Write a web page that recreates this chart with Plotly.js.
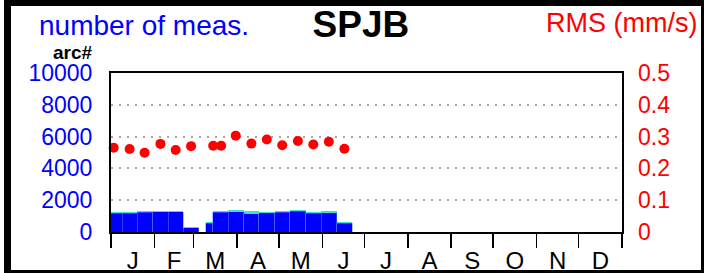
<!DOCTYPE html>
<html>
<head>
<meta charset="utf-8">
<script src="https://cdn.plot.ly/plotly-3.0.1.min.js"></script>
<style>
  html, body { margin: 0; padding: 0; background: #fff; }
  #wrap { position: relative; width: 704px; height: 273px; overflow: hidden; }
  #chart { position: absolute; left: 0; top: 0; width: 704px; height: 273px; }
  #frame { position: absolute; left: 4px; top: 0; width: 700px; height: 273px; box-sizing: border-box;
           border-top: 6px solid #000; border-left: 7px solid #000; border-bottom: 3px solid #000; border-right: 3px solid #000;
           pointer-events: none; }
</style>
</head>
<body>
<div id="wrap">
  <div id="chart"></div>
  <div id="frame"></div>
</div>
<script>
// ---- data (day of year) ----
var binStart = [-3.1, 7.9, 18.6, 29.75, 40.8, 51.5, 67.7, 72.8, 83.9, 94.8, 105.6, 116.8, 127.7, 139.0, 150.2, 161.2];
var binEnd   = [7.9, 18.6, 29.75, 40.8, 51.5, 62.7, 72.8, 83.9, 94.8, 105.6, 116.8, 127.7, 139.0, 150.2, 161.2, 172.4];
var countMain  = [1176, 1170, 1258, 1277, 1277, 275, 566, 1239, 1277, 1151, 1214, 1239, 1300, 1176, 1214, 566];
var countTotal = [1258, 1230, 1321, 1340, 1340, 290, 629, 1321, 1365, 1321, 1258, 1300, 1384, 1258, 1300, 610];

var rmsDay = [1.9, 13.3, 24.0, 35.3, 46.2, 57.2, 73.0, 78.7, 89.1, 100.3, 111.3, 122.3, 133.5, 144.5, 155.6, 166.7];
var rmsVal = [0.265, 0.261, 0.249, 0.277, 0.258, 0.270, 0.271, 0.271, 0.303, 0.278, 0.291, 0.273, 0.286, 0.275, 0.284, 0.262];

var monthStarts = [0, 31, 59, 90, 120, 151, 181, 212, 243, 273, 304, 334, 365];
var monthLabels = ['J','F','M','A','M','J','J','A','S','O','N','D'];
var countTicks = [0, 2000, 4000, 6000, 8000, 10000];
var countTickText = ['0', '2000', '4000', '6000', '8000', '10000'];
var rmsTicks = [0, 0.1, 0.2, 0.3, 0.4, 0.5];

// ---- derived ----
var binCenter = binStart.map(function(s, i){ return (s + binEnd[i]) / 2; });
var binWidth = binStart.map(function(s, i){ return binEnd[i] - s; });
var countExtra = countTotal.map(function(t, i){ return t - countMain[i]; });
var monthMid = monthStarts.slice(0, 12).map(function(s, i){ return (s + monthStarts[i + 1]) / 2; });

var FONT = 'Liberation Sans, Arial, Helvetica, sans-serif';

var traces = [
  { type: 'bar', x: binCenter, y: countMain, width: binWidth, xaxis: 'x', yaxis: 'y',
    marker: { color: '#0000ff', line: { color: '#5a7dff', width: 0.5 } }, hoverinfo: 'skip', showlegend: false },
  { type: 'bar', x: binCenter, y: countExtra, width: binWidth, xaxis: 'x', yaxis: 'y',
    marker: { color: '#40e0d0', line: { width: 0 } }, hoverinfo: 'skip', showlegend: false },
  { type: 'scatter', mode: 'markers', x: rmsDay, y: rmsVal, xaxis: 'x2', yaxis: 'y2',
    marker: { color: '#ff0000', size: 10 }, cliponaxis: false, hoverinfo: 'skip', showlegend: false }
];

var layout = {
  width: 704, height: 273,
  margin: { l: 111, r: 82, t: 73, b: 41, pad: 0 },
  paper_bgcolor: '#ffffff', plot_bgcolor: '#ffffff',
  barmode: 'stack', bargap: 0,
  font: { family: FONT, color: '#000' },
  title: { text: '<b>SPJB</b>', font: { family: FONT, size: 37, color: '#000' },
           xref: 'paper', x: 0.489, xanchor: 'center', yref: 'paper', y: 1.165, yanchor: 'bottom', pad: { t: 0, b: 0, l: 0, r: 0 } },
  xaxis: {
    range: [0, 365], tickmode: 'array', tickvals: monthStarts, showticklabels: false,
    ticks: 'outside', ticklen: 14, tickwidth: 1.5, tickcolor: '#000',
    showline: true, linewidth: 2, linecolor: '#000', mirror: true,
    showgrid: false, zeroline: false, fixedrange: true
  },
  xaxis2: {
    overlaying: 'x', anchor: 'y', side: 'bottom', range: [0, 365],
    tickmode: 'array', tickvals: monthMid, ticktext: monthLabels, ticks: '',
    tickfont: { family: FONT, size: 24, color: '#000' }, ticklabelstandoff: 12,
    showline: false, showgrid: false, zeroline: false, fixedrange: true
  },
  yaxis: {
    range: [0, 10000], tickmode: 'array', tickvals: countTicks, ticktext: countTickText, ticks: '',
    tickfont: { family: FONT, size: 23, color: '#0000ff' }, ticklabelstandoff: 12,
    showline: true, linewidth: 2, linecolor: '#000', mirror: true,
    showgrid: true, gridcolor: '#c49a9a', gridwidth: 2, griddash: '2px,6px',
    zeroline: false, fixedrange: true
  },
  yaxis2: {
    overlaying: 'y', anchor: 'x', side: 'right', range: [0, 0.5],
    tickmode: 'array', tickvals: rmsTicks, ticks: '',
    tickfont: { family: FONT, size: 23, color: '#ff0000' }, ticklabelstandoff: 15,
    showline: false, showgrid: false, zeroline: false, fixedrange: true
  },
  annotations: [
    { text: 'number of meas.', xref: 'paper', yref: 'paper', x: -0.1444, y: 1.19, xanchor: 'left', yanchor: 'bottom',
      showarrow: false, font: { family: FONT, size: 28, color: '#0000ff' } },
    { text: 'RMS (mm/s)', xref: 'paper', yref: 'paper', x: 1.1509, y: 1.205, xanchor: 'right', yanchor: 'bottom',
      showarrow: false, font: { family: FONT, size: 27, color: '#ff0000' } },
    { text: '<b>arc#</b>', xref: 'paper', yref: 'paper', x: -0.1176, y: 1.052, xanchor: 'left', yanchor: 'bottom',
      showarrow: false, font: { family: FONT, size: 19, color: '#000' } }
  ]
};

Plotly.newPlot('chart', traces, layout, { displayModeBar: false, staticPlot: true });
</script>
</body>
</html>
